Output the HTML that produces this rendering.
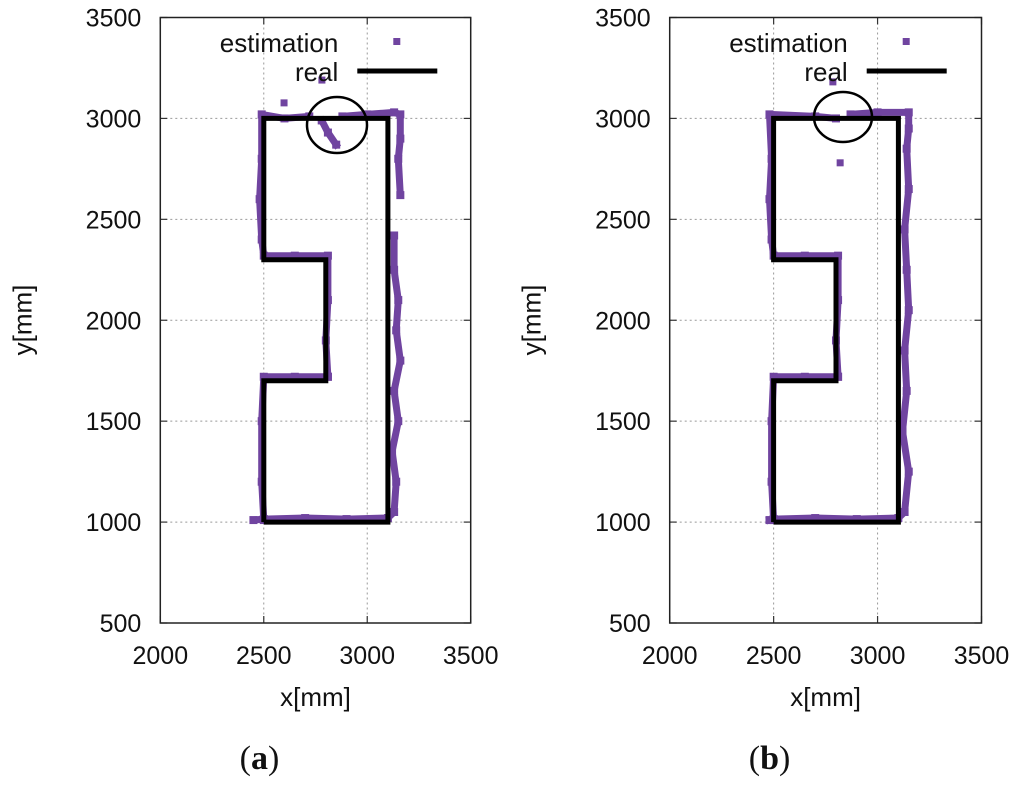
<!DOCTYPE html>
<html><head><meta charset="utf-8"><style>
body{margin:0;background:#fff;}
svg text{font-family:"Liberation Sans",sans-serif;}
</style></head><body>
<svg id="c" width="1024" height="785" xmlns="http://www.w3.org/2000/svg"></svg>
<script>
const xTicks=[2000,2500,3000,3500];
const yTicks=[500,1000,1500,2000,2500,3000,3500];
const realX=[2500,3100,3100,2500,2500,2800,2800,2500,2500];
const realY=[1000,1000,3000,3000,2300,2300,1700,1700,1000];
// panel a estimation trace (segments separated by null)
const estAX=[2450,2500,2700,2900,3100,3130,3140,3120,3150,3130,3160,3140,3150,3130,3130,null,3160,3150,3160,3160,3130,3000,2880,null,2780,2810,2850,null,2720,2600,2490,2490,2480,2490,2500,2650,2810,2810,2800,2810,2810,2650,2500,2490,2490,2500];
const estAY=[1010,1015,1020,1015,1020,1050,1200,1350,1500,1650,1800,1950,2100,2250,2420,null,2620,2800,2900,3020,3030,3020,3010,null,2990,2930,2870,null,3010,3000,3020,2800,2600,2400,2320,2320,2320,2100,1900,1720,1720,1720,1720,1500,1200,1010];
const outAX=[2598,2781];
const outAY=[3077,3190];
// panel b estimation trace
const estBX=[2480,2500,2700,2900,3100,3130,3150,3120,3140,3130,3150,3140,3130,3150,3140,3150,3150,3000,2870,null,2800,2700,2480,2490,2480,2490,2500,2650,2810,2810,2800,2810,2810,2650,2500,2490,2490,2500];
const estBY=[1010,1015,1020,1015,1020,1050,1250,1450,1650,1850,2050,2250,2450,2650,2850,2950,3030,3030,3020,null,3000,3010,3020,2800,2600,2400,2320,2320,2320,2100,1900,1720,1720,1720,1720,1500,1200,1010];
const outBX=[2785,2820];
const outBY=[3181,2780];

const svg=document.getElementById('c');
const NS='http://www.w3.org/2000/svg';
function mk(t,a,p){const e=document.createElementNS(NS,t);for(const k in a)e.setAttribute(k,a[k]);(p||svg).appendChild(e);return e;}
const PURPLE='#7044a0';
function panel(L,R,T,B,ex,ey,ox,oy,circ,tag){
  const g=mk('g',{});
  
  
  const sx=v=>L+(v-2000)/1500*(R-L);
  const sy=v=>B-(v-500)/3000*(B-T);
  xTicks.forEach(v=>{
    if(v>2000&&v<3500){const l=mk('line',{x1:sx(v),x2:sx(v),y1:T,y2:B,stroke:'#999','stroke-width':1,'stroke-dasharray':'2,3'},g);
    }
    mk('line',{x1:sx(v),x2:sx(v),y1:B,y2:B-7,stroke:'#333','stroke-width':1.2},g);
    mk('line',{x1:sx(v),x2:sx(v),y1:T,y2:T+7,stroke:'#333','stroke-width':1.2},g);
    const t=mk('text',{x:sx(v),y:B+41,'font-size':25,'text-anchor':'middle',fill:'#111'},g);t.textContent=v;
    
  });
  yTicks.forEach(v=>{
    if(v>500&&v<3500){const l=mk('line',{x1:L,x2:R,y1:sy(v),y2:sy(v),stroke:'#999','stroke-width':1,'stroke-dasharray':'2,3'},g);
    }
    mk('line',{x1:L,x2:L+7,y1:sy(v),y2:sy(v),stroke:'#333','stroke-width':1.2},g);
    mk('line',{x1:R,x2:R-7,y1:sy(v),y2:sy(v),stroke:'#333','stroke-width':1.2},g);
    const t=mk('text',{x:L-19,y:sy(v)+9,'font-size':25,'text-anchor':'end',fill:'#111'},g);t.textContent=v;
    
  });
  let d='',pen=false;
  for(let i=0;i<ex.length;i++){
    if(ex[i]===null){pen=false;continue;}
    d+=(pen?'L':'M')+sx(ex[i]).toFixed(1)+','+sy(ey[i]).toFixed(1);pen=true;
  }
  const est=mk('path',{d:d,fill:'none',stroke:PURPLE,'stroke-width':7,'stroke-linejoin':'round','stroke-linecap':'square'},g);
  
  ex.forEach((v,i)=>{if(v===null)return;
    const r=mk('rect',{x:sx(v)-4,y:sy(ey[i])-4,width:8,height:8,fill:PURPLE},g);
    });
  ox.forEach((v,i)=>{
    const r=mk('rect',{x:sx(v)-3.5,y:sy(oy[i])-3.5,width:7,height:7,fill:PURPLE},g);
    });
  const rp=realX.map((v,i)=>sx(v).toFixed(1)+','+sy(realY[i]).toFixed(1)).join(' ');
  const rl=mk('polyline',{points:rp,fill:'none',stroke:'#000','stroke-width':5,'stroke-linejoin':'miter'},g);
  
  const c=mk('ellipse',{cx:circ[0],cy:circ[1],rx:circ[2],ry:circ[3],fill:'none',stroke:'#000','stroke-width':2.5},g);
  
  const f=mk('rect',{x:L,y:T,width:R-L,height:B-T,fill:'none',stroke:'#222','stroke-width':1.5},g);
  
  const lx=L+178;
  const t1=mk('text',{x:lx,y:52,'font-size':26,'text-anchor':'end',fill:'#111'},g);t1.textContent='estimation';
  
  mk('rect',{x:lx+55,y:38,width:7,height:7,fill:PURPLE},g);
  const t2=mk('text',{x:lx,y:81,'font-size':26,'text-anchor':'end',fill:'#111'},g);t2.textContent='real';
  
  mk('line',{x1:lx+19,x2:lx+99,y1:71,y2:71,stroke:'#000','stroke-width':5},g);
  const xt=mk('text',{x:(L+R)/2,y:706,'font-size':26,'text-anchor':'middle',fill:'#111'},g);xt.textContent='x[mm]';
  
  const yt=mk('text',{x:0,y:0,'font-size':26,'text-anchor':'middle',fill:'#111',transform:'translate('+(L-129)+',320) rotate(-90)'},g);yt.textContent='y[mm]';
  
  const cap=mk('text',{x:(L+R)/2-56,y:769,'font-size':34,'text-anchor':'middle',fill:'#111'},g);
  cap.style.fontFamily='"Liberation Serif",serif';
  cap.innerHTML='(<tspan font-weight="bold">'+tag+'</tspan>)';
  
}
panel(160.3,470.7,17.5,623,estAX,estAY,outAX,outAY,[337,125,30,28],'a');
panel(669.7,981.5,17.5,623,estBX,estBY,outBX,outBY,[843,117,29,25],'b');
</script>
</body></html>
